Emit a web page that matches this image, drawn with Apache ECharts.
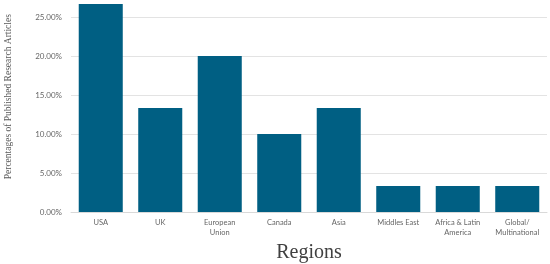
<!DOCTYPE html>
<html>
<head>
<meta charset="utf-8">
<script src="https://cdn.jsdelivr.net/npm/echarts@6/dist/echarts.min.js"></script>
<style>
  html, body { margin: 0; padding: 0; background: #fff; }
  #main { width: 550px; height: 264px; }
</style>
</head>
<body>
<div id="main"></div>
<script>
// region categories and share of published articles (%)
const regions = ['USA', 'UK', 'European\nUnion', 'Canada', 'Asia', 'Middles East', 'Africa & Latin\nAmerica', 'Global/\nMultinational']
const shares = [26.67, 13.33, 20, 10, 13.33, 3.33, 3.33, 3.33]

const chart = echarts.init(document.getElementById('main'))

const option = {
  animation: false,
  grid: {
    left: 71,
    right: 3,
    top: 1.4,
    bottom: 52,
    outerBoundsMode: 'none'
  },
  xAxis: {
    type: 'category',
    data: regions,
    name: 'Regions',
    nameLocation: 'middle',
    nameGap: 30,
    nameTextStyle: {
      fontFamily: 'Liberation Serif',
      fontSize: 20,
      color: '#404040'
    },
    axisLine: { lineStyle: { color: '#d9d9d9' } },
    axisTick: { show: false },
    axisLabel: {
      interval: 0,
      color: '#666',
      fontFamily: 'Lato',
      fontSize: 7.5,
      lineHeight: 10,
      margin: 6
    }
  },
  yAxis: {
    type: 'value',
    min: 0,
    max: 27,
    interval: 5,
    name: 'Percentages of Published Research Articles',
    nameLocation: 'middle',
    nameGap: 58,
    nameTextStyle: {
      fontFamily: 'Liberation Serif',
      fontSize: 9.5,
      color: '#595959',
      padding: [0, 0, 0, 20]
    },
    axisLine: { show: false },
    axisTick: { show: false },
    axisLabel: {
      color: '#666',
      fontFamily: 'Lato',
      fontSize: 8,
      margin: 9,
      showMaxLabel: false,
      formatter: (v) => v.toFixed(2) + '%'
    },
    splitLine: {
      showMaxLine: false,
      lineStyle: { color: '#e3e3e3' }
    }
  },
  series: [
    {
      type: 'bar',
      data: shares,
      barCategoryGap: '26%',
      itemStyle: { color: '#005f83' }
    }
  ]
}

chart.setOption(option)
</script>
</body>
</html>
